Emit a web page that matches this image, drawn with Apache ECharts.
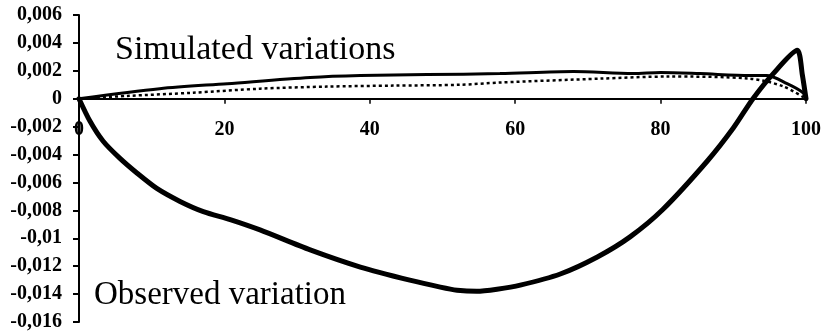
<!DOCTYPE html>
<html>
<head>
<meta charset="utf-8">
<script src="https://cdn.jsdelivr.net/npm/echarts@6/dist/echarts.min.js"></script>
<style>
    html, body { margin: 0; padding: 0; background: #fff; }
    #chart { width: 828px; height: 335px; }
</style>
</head>
<body>
<div id="chart"></div>
<script>
// observed variation (thick line)
const obsX = [0, 1.5, 3.3, 5.6, 8.0, 10.7, 13.9, 17.1, 20.8, 24.9, 31.8, 38.7, 45.5, 49.7, 52, 54.7, 57.5, 60.7, 66.2, 71.3, 75.8, 80.3, 86.4, 90, 92.7, 95.5, 98.8, 99.5, 100];
const obsY = [0, -0.0016, -0.00303, -0.00426, -0.00534, -0.00643, -0.00736, -0.00809, -0.00866, -0.0094, -0.01083, -0.01206, -0.0130, -0.0135, -0.01372, -0.0138, -0.01365, -0.01336, -0.01256, -0.01134, -0.0099, -0.00794, -0.00448, -0.0021, 0, 0.0018, 0.00347, 0.0017, 0];

// simulated variations: solid and dotted
const simX = [0, 11.1, 20.4, 31.8, 38.7, 47.9, 57.9, 68, 76.2, 80, 85.4, 92.3, 94.6, 97.4, 99.6, 100];
const simY = [0, 0.00072, 0.00108, 0.00152, 0.00166, 0.00173, 0.0018, 0.00195, 0.0018, 0.00188, 0.0018, 0.00166, 0.00166, 0.00108, 0.00043, 0];
const dotX = [0, 6.6, 15.7, 24.9, 34.1, 43.2, 52.4, 57.9, 71.7, 80.9, 92.3, 96.8, 100];
const dotY = [0, 0.0002, 0.00043, 0.00072, 0.00087, 0.00094, 0.001, 0.00116, 0.00144, 0.00159, 0.00144, 0.0009, 0];

const labelSim = 'Simulated variations';
const labelObs = 'Observed variation';

const pairs = (xs, ys) => xs.map((x, i) => [x, ys[i]]);

const chart = echarts.init(document.getElementById('chart'));
const axisFont = { fontFamily: 'Liberation Serif', fontWeight: 'bold', fontSize: 20, color: '#000' };

// grid is 335 - 15 - 13 = 307 px tall; the x axis sits at y = 0,
// i.e. 16/22 of the height above the bottom edge
const gridTop = 15, gridBottom = 13;
const zeroOffset = -(335 - gridTop - gridBottom) * 16 / 22;

chart.setOption({
    animation: false,
    grid: { left: 79, right: 22, top: gridTop, bottom: gridBottom, outerBoundsMode: 'none', containLabel: false },
    xAxis: {
        type: 'value',
        min: 0,
        max: 100,
        interval: 20,
        position: 'bottom',
        offset: zeroOffset,
        axisLine: { onZero: false, lineStyle: { color: '#000', width: 2 } },
        axisTick: { show: true, length: 5, lineStyle: { color: '#000', width: 1.5 } },
        axisLabel: Object.assign({ margin: 21 }, axisFont),
        splitLine: { show: false }
    },
    yAxis: {
        type: 'value',
        min: -0.016,
        max: 0.006,
        interval: 0.002,
        axisLine: { show: true, onZero: false, lineStyle: { color: '#000', width: 2 } },
        axisTick: { show: true, length: 6, lineStyle: { color: '#000', width: 2 } },
        axisLabel: Object.assign({
            margin: 17,
            formatter: v => String(Math.round(v * 1000) / 1000).replace('.', ',')
        }, axisFont),
        splitLine: { show: false }
    },
    graphic: [
        {
            type: 'text',
            style: { text: labelSim, x: 115, y: 50, font: '34px "Liberation Serif"', fill: '#000', verticalAlign: 'middle' }
        },
        {
            type: 'text',
            style: { text: labelObs, x: 94, y: 295, font: '33px "Liberation Serif"', fill: '#000', verticalAlign: 'middle' }
        }
    ],
    series: [
        {
            type: 'line',
            data: pairs(dotX, dotY),
            symbol: 'none',
            smooth: 0.3,
            lineStyle: { color: '#000', width: 2.5, type: [3, 3] }
        },
        {
            type: 'line',
            data: pairs(simX, simY),
            symbol: 'none',
            smooth: 0.3,
            lineStyle: { color: '#000', width: 3 }
        },
        {
            type: 'line',
            data: pairs(obsX, obsY),
            symbol: 'none',
            smooth: 0.25,
            lineStyle: { color: '#000', width: 5, join: 'round', cap: 'round' }
        }
    ]
});
</script>
</body>
</html>
